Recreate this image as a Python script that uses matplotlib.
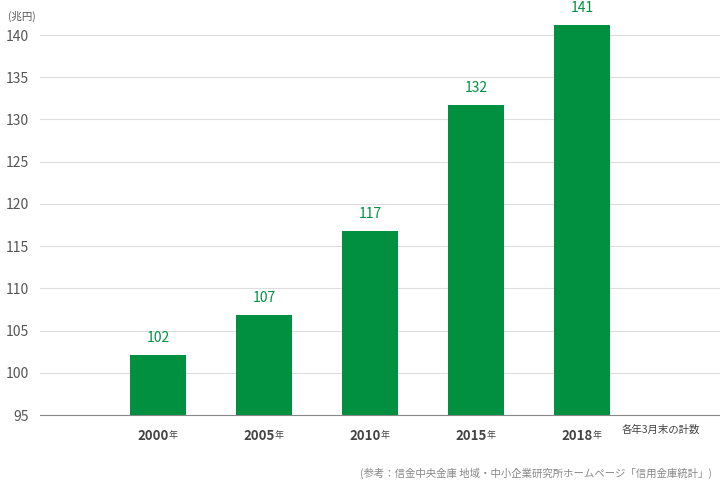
import matplotlib
matplotlib.use("Agg")
import matplotlib.pyplot as plt
from matplotlib import transforms

years = ["2000", "2005", "2010", "2015", "2018"]
values = [102.1, 106.8, 116.8, 131.7, 141.2]
labels = ["102", "107", "117", "132", "141"]
yticks = [95, 100, 105, 110, 115, 120, 125, 130, 135, 140]

plt.rcParams["font.family"] = "Noto Sans CJK JP"
fig = plt.figure(figsize=(7.2, 4.98), dpi=100)
ax = fig.add_axes([40/720, 1-415/498, 680/720, 390/498])
green = "#009040"
x = list(range(len(years)))
ax.bar(x, values, width=0.53, color=green, zorder=3)
ax.set_ylim(95, 141.2 + 0.0 if False else 141.2)
ax.set_ylim(95, 95 + 390/380*45)
ax.set_xlim(-1.113, 5.3)
ax.set_yticks(yticks)
ax.set_yticklabels([str(t) for t in yticks], fontsize=10, color="#555555")
ax.tick_params(axis="y", length=0, pad=8)
ax.tick_params(axis="x", length=0)
ax.set_xticks([])
ax.grid(axis="y", color="#dddddd", linewidth=0.8, zorder=0)
for s in ["top", "right", "left"]:
    ax.spines[s].set_visible(False)
ax.spines["bottom"].set_color("#888888")
for xi, v, l in zip(x, values, labels):
    ax.text(xi, v + 1.2, l, ha="center", va="bottom", fontsize=10, color=green)
tr = transforms.blended_transform_factory(ax.transData, ax.transAxes)
for xi, y in zip(x, years):
    ax.text(xi + 0.1, -0.035, y, ha="right", va="top", fontsize=9.5, fontweight="bold", color="#444444", transform=tr)
    ax.text(xi + 0.1, -0.04, "年", ha="left", va="top", fontsize=6.5, color="#444444", transform=tr)
fig.text(622/720, 1-430/498, "各年3月末の計数", ha="left", va="center", fontsize=7.5, color="#444444")
fig.text(8/720, 1-16/498, "(兆円)", ha="left", va="center", fontsize=7.5, color="#555555")
fig.text(712/720, 1-473/498, "(参考：信金中央金庫 地域・中小企業研究所ホームページ「信用金庫統計」)", ha="right", va="center", fontsize=7.5, color="#888888")
fig.savefig("out.png", dpi=100)
